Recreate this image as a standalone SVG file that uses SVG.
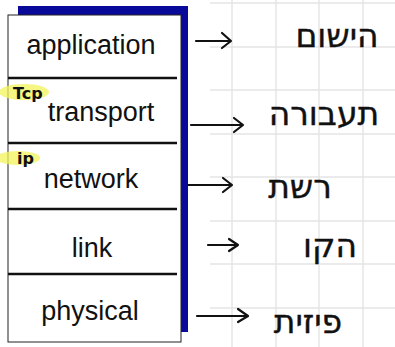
<svg xmlns="http://www.w3.org/2000/svg" width="395" height="347" viewBox="0 0 395 347">
  <style>
    .grid line { stroke: #e4e4e4; stroke-width: 1.4; }
    .layer-label { font-family: "Liberation Sans", Arial, sans-serif; font-size: 27px; fill: #111; text-anchor: middle; }
    .divider { stroke: #111; stroke-width: 2.5; }
    .note { font-family: "DejaVu Sans", "Noto Sans", sans-serif; font-size: 33px; fill: #111; stroke: #111; stroke-width: 0.4; text-anchor: middle; }
    .tag { font-family: "DejaVu Sans", sans-serif; font-weight: bold; font-size: 16px; fill: #111; }
    .hl { fill: #f3f35a; opacity: 0.75; }
    .arrow { fill: none; stroke: #111; stroke-width: 2.2; stroke-linecap: round; stroke-linejoin: round; }
  </style>

  <rect width="395" height="347" fill="#ffffff"/>

  <!-- notebook grid on the right side -->
  <g class="grid">
    <line x1="210" y1="3" x2="395" y2="3"/>
    <line x1="210" y1="47" x2="395" y2="47"/>
    <line x1="210" y1="90" x2="395" y2="90"/>
    <line x1="210" y1="134" x2="395" y2="134"/>
    <line x1="210" y1="177" x2="395" y2="177"/>
    <line x1="210" y1="221" x2="395" y2="221"/>
    <line x1="210" y1="264" x2="395" y2="264"/>
    <line x1="210" y1="308" x2="395" y2="308"/>
    <line x1="232" y1="0" x2="232" y2="347"/>
    <line x1="276" y1="0" x2="276" y2="347"/>
    <line x1="319" y1="0" x2="319" y2="347"/>
    <line x1="363" y1="0" x2="363" y2="347"/>
  </g>

  <!-- protocol stack -->
  <g id="stack">
    <rect x="18" y="6" width="170" height="326" fill="#0a0a9a"/>
    <rect x="8" y="15" width="173" height="327" fill="#ffffff" stroke="#222" stroke-width="1"/>
    <line class="divider" x1="8" y1="78" x2="177" y2="78"/>
    <line class="divider" x1="8" y1="143" x2="177" y2="143"/>
    <line class="divider" x1="8" y1="209" x2="177" y2="209"/>
    <line class="divider" x1="8" y1="274" x2="177" y2="274"/>
  </g>

  <g id="application">
    <text class="layer-label" x="91" y="54">application</text>
  </g>
  <g id="transport">
    <text class="layer-label" x="101" y="121">transport</text>
    <ellipse class="hl" cx="24" cy="92" rx="25" ry="8"/>
    <text class="tag" x="13" y="99">Tcp</text>
  </g>
  <g id="network">
    <text class="layer-label" x="91" y="188">network</text>
    <ellipse class="hl" cx="18" cy="158" rx="22" ry="7"/>
    <text class="tag" x="17" y="164">ip</text>
  </g>
  <g id="link">
    <text class="layer-label" x="92" y="257">link</text>
  </g>
  <g id="physical">
    <text class="layer-label" x="90" y="320">physical</text>
  </g>

  <!-- arrows to the notes -->
  <g id="connectors">
    <path class="arrow" d="M196 41 H231 M222 33 L231 41 L222 48"/>
    <path class="arrow" d="M191 125 H243 M234 118 L243 125 L234 132"/>
    <path class="arrow" d="M188 185 H232 M223 178 L232 185 L223 192"/>
    <path class="arrow" d="M208 245 H238 M229 239 L238 245 L229 251"/>
    <path class="arrow" d="M197 316 H248 M238 309 L248 316 L238 322"/>
  </g>

  <!-- notes -->
  <g id="note-application"><text class="note" x="337" y="47">הישום</text></g>
  <g id="note-transport"><text class="note" x="324" y="125">תעבורה</text></g>
  <g id="note-network"><text class="note" x="300" y="198">רשת</text></g>
  <g id="note-link"><text class="note" x="330" y="257">הקו</text></g>
  <g id="note-physical"><text class="note" x="308" y="333">פיזית</text></g>
</svg>
